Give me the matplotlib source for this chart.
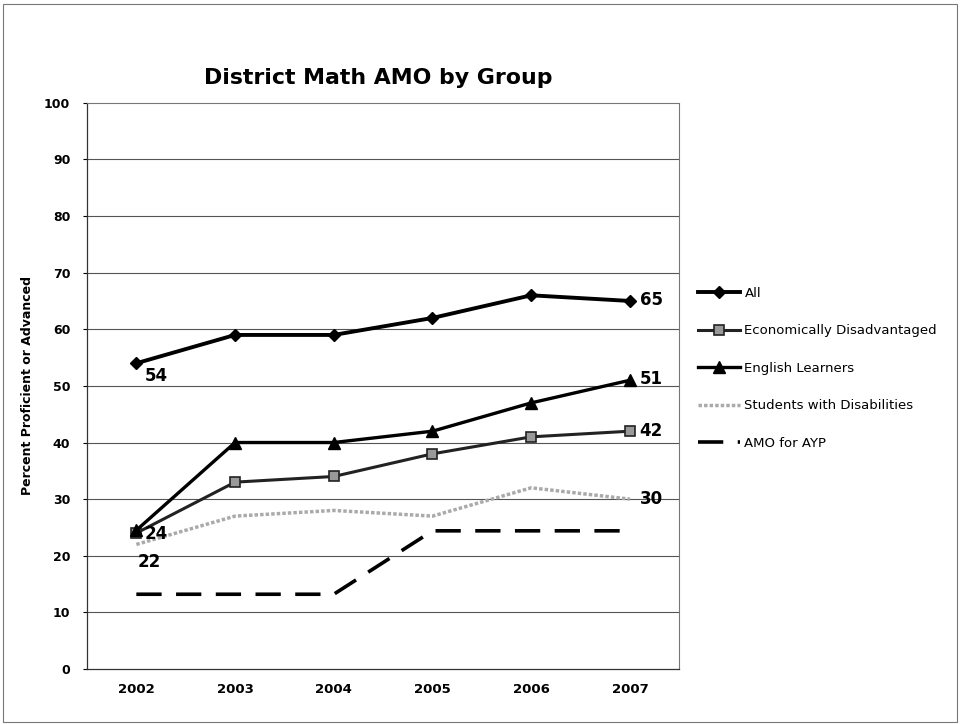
import matplotlib
matplotlib.use("Agg")
import matplotlib.pyplot as plt
from matplotlib.patches import Rectangle
import numpy as np

years = ["2002", "2003", "2004", "2005", "2006", "2007"]
all_students = [54, 59, 59, 62, 66, 65]
econ_disadv = [24, 33, 34, 38, 41, 42]
english_learners = [24.5, 40, 40, 42, 47, 51]
students_disab = [22, 27, 28, 27, 32, 30]
amo_ayp = [13.2, 13.2, 13.2, 24.4, 24.4, 24.4]

yticks = [0, 10, 20, 30, 40, 50, 60, 70, 80, 90, 100]

plt.rcParams['font.family'] = ['DejaVu Sans']

fig = plt.figure(figsize=(9.6, 7.24), dpi=100)
ax = fig.add_axes([0.0906, 0.076, 0.617, 0.782])
x = np.arange(len(years))

for yv in yticks[1:-1]:
    ax.axhline(yv, color='#555555', lw=0.8, zorder=0)

ax.plot(x, students_disab, color='#aaaaaa', lw=2.5, ls=(0, (1, 0.6)),
        label='Students with Disabilities', zorder=2)
ax.plot(x, amo_ayp, color='black', lw=2.6, ls=(0, (7, 4)),
        label='AMO for AYP', zorder=2)
ax.plot(x, econ_disadv, color='#222222', lw=2.2, marker='s', ms=7,
        mfc='#999999', mec='#222222', mew=1.2,
        label='Economically Disadvantaged', zorder=3)
ax.plot(x, english_learners, color='black', lw=2.4, marker='^', ms=8,
        mfc='black', mec='black', label='English Learners', zorder=4)
ax.plot(x, all_students, color='black', lw=2.8, marker='D', ms=6,
        mfc='black', mec='black', label='All', zorder=5)

lab_kw = dict(fontsize=12, fontweight='bold', color='black')
ax.annotate(f"{all_students[0]:.0f}", (x[0], all_students[0]), xytext=(6, -9),
            textcoords='offset points', ha='left', va='center', **lab_kw)
ax.annotate(f"{econ_disadv[0]:.0f}", (x[0], econ_disadv[0]), xytext=(6, -1),
            textcoords='offset points', ha='left', va='center', **lab_kw)
ax.annotate(f"{students_disab[0]:.0f}", (x[0], students_disab[0]), xytext=(1, -13),
            textcoords='offset points', ha='left', va='center', **lab_kw)
ax.annotate(f"{all_students[-1]:.0f}", (x[-1], all_students[-1]), xytext=(7, 1),
            textcoords='offset points', ha='left', va='center', **lab_kw)
ax.annotate(f"{english_learners[-1]:.0f}", (x[-1], english_learners[-1]), xytext=(7, 1),
            textcoords='offset points', ha='left', va='center', **lab_kw)
ax.annotate(f"{econ_disadv[-1]:.0f}", (x[-1], econ_disadv[-1]), xytext=(7, 0),
            textcoords='offset points', ha='left', va='center', **lab_kw)
ax.annotate(f"{students_disab[-1]:.0f}", (x[-1], students_disab[-1]), xytext=(7, 0),
            textcoords='offset points', ha='left', va='center', **lab_kw)

ax.set_xlim(-0.5, len(years) - 0.5)
ax.set_ylim(0, 100)
ax.set_yticks(yticks)
ax.set_yticklabels([str(v) for v in yticks], fontsize=9, fontweight='bold')
ax.set_xticks(x)
ax.set_xticklabels(years, fontsize=9.5, fontweight='bold')
ax.tick_params(axis='x', length=0, pad=10)
ax.tick_params(axis='y', length=3, pad=9)
for side in ['top', 'right']:
    ax.spines[side].set_color('#777777')
    ax.spines[side].set_linestyle((0, (2, 1)))
    ax.spines[side].set_linewidth(0.8)
for side in ['left', 'bottom']:
    ax.spines[side].set_color('#333333')
    ax.spines[side].set_linewidth(0.9)

ax.set_ylabel("Percent Proficient or Advanced", fontsize=9, fontweight='bold', labelpad=7)
fig.text(0.394, 0.892, "District Math AMO by Group", ha='center', va='center',
         fontsize=15.8, fontweight='bold')

handles, labels = ax.get_legend_handles_labels()
order = ['All', 'Economically Disadvantaged', 'English Learners',
         'Students with Disabilities', 'AMO for AYP']
hmap = dict(zip(labels, handles))
fig.legend([hmap[o] for o in order], order, loc='upper left',
           bbox_to_anchor=(0.715, 0.62), frameon=False, fontsize=9.5,
           labelspacing=1.85, handlelength=3.2, handletextpad=0.3)

fig.patches.append(Rectangle((0.003, 0.003), 0.994, 0.992, transform=fig.transFigure,
                             fill=False, edgecolor='#777777', lw=0.8))

fig.savefig("out.png", dpi=100, facecolor='white')
